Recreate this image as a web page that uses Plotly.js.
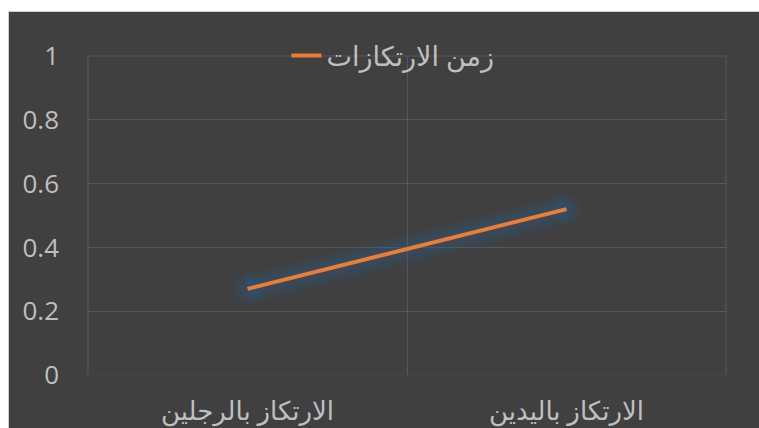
<!DOCTYPE html>
<html>
<head>
<meta charset="utf-8">
<script src="https://cdn.plot.ly/plotly-3.0.1.min.js"></script>
<style>
html,body{margin:0;padding:0;background:#ffffff;width:759px;height:428px;overflow:hidden;}
#chart{position:absolute;left:8px;top:11px;width:751px;height:417px;border-top:1px solid #d0d0d0;border-left:1px solid #d0d0d0;box-sizing:border-box;}
</style>
</head>
<body>
<div id="chart"></div>
<script>
const categories = ["الارتكاز بالرجلين", "الارتكاز باليدين"];
const seriesName = "زمن الارتكازات";
const seriesValues = [0.27, 0.52];
const yTickVals = [0, 0.2, 0.4, 0.6, 0.8, 1];
const yTickText = ["0", "0.2", "0.4", "0.6", "0.8", "1"];

const fontFam = "Open Sans, DejaVu Sans, sans-serif";
const textColor = "#bfbfbf";
const gridColor = "#585858";

const glowLayers = [
  {w: 32, c: "rgba(40,95,140,0.07)"},
  {w: 26, c: "rgba(40,95,140,0.10)"},
  {w: 20, c: "rgba(40,95,140,0.13)"},
  {w: 14, c: "rgba(40,95,140,0.14)"}
];
const traces = glowLayers.map(g => ({
  x: categories, y: seriesValues, type: "scatter", mode: "lines+markers",
  line: {color: g.c, width: g.w}, marker: {color: g.c, size: g.w, line: {width: 0}},
  showlegend: false, hoverinfo: "skip"
}));
traces.push({x: categories, y: seriesValues, type: "scatter", mode: "lines", name: seriesName,
  line: {color: "#ed7d31", width: 4}});

const layout = {
  width: 750, height: 416,
  paper_bgcolor: "#404040", plot_bgcolor: "#404040",
  margin: {l: 79, r: 33, t: 44, b: 53},
  font: {family: fontFam, color: textColor},
  showlegend: true,
  legend: {orientation: "h", x: 0.478, xanchor: "center", y: 1.0, yanchor: "middle",
    font: {size: 27, color: textColor, family: fontFam}, bgcolor: "rgba(0,0,0,0)"},
  xaxis: {type: "category", range: [-0.5, 1.5], tickson: "boundaries", ticklen: 0,
    showgrid: true, gridcolor: gridColor, gridwidth: 1, showline: false, zeroline: false,
    ticklabelstandoff: 18,
    tickfont: {size: 26, color: textColor, family: fontFam}, fixedrange: true},
  yaxis: {range: [0, 1], tickvals: yTickVals, ticktext: yTickText, showgrid: true,
    gridcolor: gridColor, gridwidth: 1, zeroline: false, showline: false, ticks: "",
    ticklabelstandoff: 28,
    tickfont: {size: 26, color: textColor, family: fontFam}, fixedrange: true},
  shapes: [
    {type: "line", xref: "paper", yref: "paper", x0: 0, x1: 1, y0: 1, y1: 1, line: {color: gridColor, width: 1}, layer: "below"},
    {type: "line", xref: "paper", yref: "paper", x0: 0, x1: 0, y0: 0, y1: 1, line: {color: gridColor, width: 1}, layer: "below"},
    {type: "line", xref: "paper", yref: "paper", x0: 1, x1: 1, y0: 0, y1: 1, line: {color: gridColor, width: 1}, layer: "below"},
    {type: "line", xref: "paper", yref: "paper", x0: 0, x1: 1, y0: 0, y1: 0, line: {color: "#464646", width: 1}, layer: "below"}
  ]
};

Plotly.newPlot("chart", traces, layout, {displayModeBar: false, staticPlot: true});
</script>
</body>
</html>
